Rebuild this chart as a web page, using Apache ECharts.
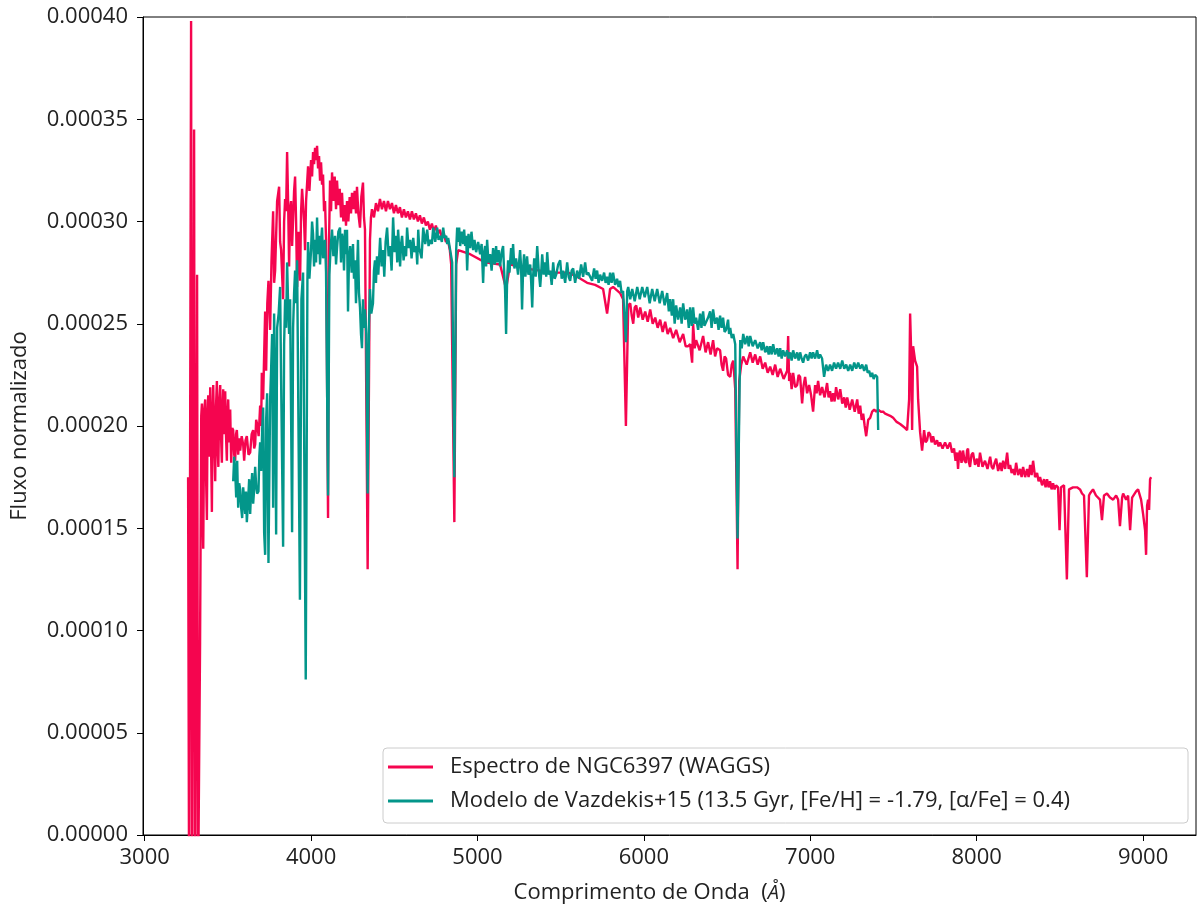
<!DOCTYPE html>
<html>
<head>
<meta charset="utf-8">
<script src="https://cdn.jsdelivr.net/npm/echarts@6/dist/echarts.min.js"></script>
<style>
  html, body { margin: 0; padding: 0; background: #ffffff; }
  #chart { width: 1198px; height: 909px; }
</style>
</head>
<body>
<div id="chart"></div>
<script>
// Normalized flux values below are given in units of 1e-5.
const FLUX_UNIT = 1e-5;

// NGC6397 spectrum (WAGGS): [wavelength (Å), flux]
const redSpectrum = [
  [3261, 17.5], [3267, -3], [3279, 39.8], [3285, -3], [3297, 34.5], [3303, -3], [3315, 27.4], [3321, -3],
  [3333, 9.4], [3340, 20.5], [3344, 21.1], [3348, 16.0], [3352, 14.0], [3358, 20.8], [3364, 21.3], [3369, 17.5],
  [3374, 15.4], [3378, 20.6], [3382, 21.5], [3388, 18.5], [3394, 21.9], [3399, 19.0], [3404, 15.8], [3408, 20.5],
  [3412, 22.0], [3418, 19.5], [3424, 17.3], [3429, 21.0], [3434, 22.2], [3438, 19.0], [3443, 18.0], [3448, 21.2],
  [3454, 22.0], [3459, 19.5], [3464, 18.2], [3468, 20.8], [3472, 21.8], [3478, 19.6], [3484, 21.7], [3489, 19.5],
  [3494, 18.3], [3498, 20.5], [3502, 21.3], [3508, 19.2], [3514, 20.8], [3520, 18.2], [3526, 19.9], [3532, 19.8],
  [3538, 18.6], [3544, 18.3], [3549, 19.6], [3554, 19.8], [3562, 18.6], [3568, 19.4], [3574, 18.8], [3583, 19.5],
  [3592, 19.1], [3598, 18.3], [3606, 19.3], [3614, 19.5], [3624, 18.6], [3634, 18.7], [3643, 19.6], [3652, 19.8],
  [3658, 18.9], [3664, 19.1], [3670, 20.3], [3676, 20.1], [3685, 19.5], [3694, 21.0], [3700, 20.0], [3704, 22.6],
  [3712, 21.3], [3718, 23.5], [3724, 25.6], [3730, 22.7], [3737, 26.0], [3744, 27.1], [3754, 24.7], [3762, 28.0],
  [3772, 30.5], [3778, 27.0], [3784, 27.6], [3796, 31.0], [3808, 31.7], [3814, 29.0], [3820, 28.6], [3832, 26.2],
  [3838, 30.0], [3844, 31.1], [3850, 30.5], [3856, 33.4], [3862, 31.0], [3868, 27.8], [3874, 30.6], [3880, 31.0],
  [3886, 28.8], [3892, 30.1], [3898, 31.5], [3904, 32.2], [3910, 30.0], [3916, 26.8], [3925, 29.5], [3934, 27.1],
  [3940, 30.5], [3946, 31.6], [3958, 30.0], [3964, 28.6], [3970, 31.0], [3982, 32.7], [3990, 31.5], [4000, 33.0],
  [4006, 32.2], [4012, 33.4], [4018, 32.8], [4024, 33.6], [4030, 33.0], [4036, 33.7], [4042, 32.6], [4048, 33.2],
  [4054, 32.0], [4060, 32.9], [4066, 31.8], [4072, 32.3], [4078, 30.5], [4084, 31.0], [4090, 29.1], [4102, 15.5],
  [4108, 29.1], [4114, 32.0], [4120, 30.5], [4126, 32.4], [4134, 31.0], [4142, 32.2], [4150, 30.6], [4156, 32.0],
  [4164, 30.8], [4172, 31.6], [4180, 30.2], [4186, 31.4], [4194, 30.0], [4204, 30.8], [4210, 29.8], [4216, 31.0],
  [4224, 30.0], [4232, 31.2], [4240, 30.4], [4246, 31.4], [4254, 30.6], [4262, 31.5], [4270, 30.4], [4276, 31.7],
  [4284, 30.4], [4294, 29.7], [4302, 31.2], [4312, 31.9], [4318, 30.2], [4324, 29.6], [4340, 13.0], [4354, 29.1],
  [4360, 30.2], [4366, 30.6], [4378, 30.2], [4390, 30.9], [4402, 30.5], [4414, 31.1], [4426, 30.6], [4438, 31.0],
  [4450, 30.5], [4462, 31.0], [4474, 30.6], [4486, 30.9], [4498, 30.4], [4510, 30.8], [4522, 30.4], [4534, 30.7],
  [4546, 30.2], [4558, 30.6], [4570, 30.2], [4582, 30.5], [4594, 30.1], [4606, 30.5], [4618, 30.1], [4630, 30.4],
  [4642, 30.0], [4654, 30.3], [4666, 29.9], [4678, 30.2], [4690, 29.8], [4702, 30.0], [4714, 29.6], [4726, 29.9],
  [4738, 29.5], [4750, 29.8], [4762, 29.4], [4774, 29.6], [4786, 29.2], [4798, 29.4], [4810, 29.0], [4822, 29.1],
  [4834, 28.6], [4842, 27.9], [4861, 15.3], [4872, 27.9], [4884, 28.6], [4956, 28.4], [5046, 28.0], [5136, 27.9],
  [5172, 26.7], [5196, 27.9], [5286, 27.7], [5377, 27.6], [5467, 27.5], [5545, 27.5], [5599, 27.3], [5659, 27.0],
  [5707, 26.9], [5755, 26.7], [5779, 25.5], [5797, 26.7], [5815, 26.8], [5857, 26.5], [5875, 26.2], [5892, 20.0],
  [5906, 25.9], [5918, 26.0], [5927, 25.4], [5936, 25.0], [5945, 25.8], [5954, 25.9], [5966, 25.3], [5978, 25.8],
  [5993, 25.2], [6008, 25.6], [6023, 25.1], [6038, 25.7], [6053, 25.0], [6068, 25.3], [6083, 24.8], [6098, 25.2],
  [6113, 24.6], [6128, 25.1], [6143, 24.5], [6158, 24.8], [6176, 24.3], [6194, 24.7], [6215, 24.1], [6236, 24.5],
  [6251, 23.9], [6266, 23.9], [6278, 24.0], [6290, 23.1], [6296, 25.0], [6305, 23.8], [6314, 24.2], [6335, 23.7],
  [6356, 24.4], [6371, 23.6], [6386, 24.1], [6401, 23.5], [6416, 24.2], [6428, 23.4], [6440, 23.8], [6458, 23.7],
  [6467, 23.0], [6476, 22.7], [6485, 23.4], [6494, 23.3], [6506, 22.5], [6519, 22.4], [6528, 23.0], [6537, 23.2],
  [6549, 21.8], [6563, 13.0], [6573, 22.2], [6585, 23.0], [6597, 23.4], [6618, 23.0], [6639, 23.6], [6654, 23.1],
  [6669, 23.5], [6684, 23.0], [6699, 23.4], [6714, 22.8], [6729, 23.1], [6744, 22.6], [6759, 22.9], [6774, 22.5],
  [6789, 23.0], [6804, 22.4], [6819, 22.8], [6840, 22.3], [6861, 22.7], [6867, 24.4], [6873, 22.2], [6879, 22.6],
  [6888, 21.8], [6897, 22.6], [6909, 21.9], [6921, 22.0], [6930, 22.5], [6939, 22.4], [6951, 21.1], [6960, 22.0],
  [6969, 22.4], [6981, 21.6], [6993, 22.0], [7005, 21.5], [7017, 20.7], [7029, 22.0], [7038, 21.6], [7047, 22.2],
  [7059, 21.5], [7071, 21.9], [7086, 21.4], [7101, 22.1], [7110, 21.4], [7119, 21.7], [7128, 21.2], [7137, 21.6],
  [7146, 21.2], [7155, 21.9], [7168, 21.3], [7180, 21.8], [7192, 21.1], [7204, 21.4], [7213, 20.9], [7222, 21.4],
  [7237, 20.8], [7252, 21.3], [7267, 20.7], [7282, 21.3], [7291, 20.6], [7300, 21.0], [7309, 20.3], [7318, 20.6],
  [7327, 20.0], [7336, 19.5], [7348, 20.3], [7360, 20.4], [7372, 20.7], [7384, 20.8], [7396, 20.7], [7408, 20.8],
  [7423, 20.7], [7438, 20.7], [7450, 20.6], [7462, 20.6], [7480, 20.5], [7498, 20.4], [7519, 20.2], [7540, 20.1],
  [7570, 19.9], [7582, 19.8], [7594, 21.3], [7600, 25.5], [7606, 23.7], [7612, 19.8], [7618, 23.9], [7630, 23.2],
  [7642, 22.9], [7648, 21.3], [7660, 19.7], [7672, 18.8], [7684, 19.8], [7693, 19.2], [7702, 19.3], [7711, 19.7],
  [7720, 19.6], [7729, 19.2], [7738, 19.5], [7750, 19.1], [7762, 19.3], [7771, 19.0], [7780, 19.2], [7795, 18.9],
  [7810, 19.2], [7825, 18.9], [7840, 19.2], [7852, 18.7], [7864, 18.9], [7873, 18.3], [7882, 18.7], [7888, 17.9],
  [7894, 18.6], [7900, 18.8], [7909, 18.2], [7918, 18.8], [7927, 18.3], [7936, 18.2], [7942, 18.8], [7948, 18.9],
  [7954, 18.2], [7960, 18.0], [7969, 18.6], [7978, 18.7], [7990, 18.1], [8002, 18.4], [8011, 18.0], [8020, 18.7],
  [8035, 18.0], [8050, 18.3], [8065, 17.9], [8081, 18.5], [8090, 18.0], [8099, 17.9], [8108, 18.2], [8117, 18.4],
  [8129, 17.8], [8141, 18.2], [8150, 17.8], [8159, 18.3], [8171, 17.9], [8183, 18.7], [8192, 17.9], [8201, 18.1],
  [8210, 17.7], [8219, 17.9], [8228, 17.6], [8237, 18.2], [8249, 17.6], [8261, 17.9], [8270, 17.5], [8279, 18.0],
  [8291, 17.5], [8303, 17.9], [8312, 17.5], [8321, 18.1], [8330, 17.6], [8339, 18.3], [8351, 17.5], [8363, 17.7],
  [8372, 17.3], [8381, 17.5], [8393, 17.1], [8405, 17.4], [8414, 17.0], [8423, 17.4], [8432, 17.0], [8441, 17.3],
  [8450, 16.9], [8459, 17.2], [8468, 16.9], [8477, 17.1], [8489, 17.0], [8498, 14.9], [8507, 17.0], [8525, 17.1],
  [8542, 12.5], [8555, 16.9], [8579, 17.0], [8603, 17.0], [8621, 16.9], [8633, 16.7], [8645, 16.6], [8662, 12.6],
  [8675, 16.6], [8681, 16.7], [8699, 16.9], [8717, 16.6], [8741, 16.4], [8753, 15.4], [8765, 16.6], [8783, 16.7],
  [8801, 16.5], [8820, 16.4], [8838, 16.6], [8850, 16.4], [8861, 15.1], [8874, 16.5], [8880, 16.7], [8898, 16.4],
  [8910, 16.6], [8922, 14.9], [8934, 16.5], [8940, 16.5], [8958, 16.8], [8970, 16.9], [8988, 16.4], [9000, 15.7],
  [9012, 14.9], [9018, 13.7], [9024, 16.1], [9030, 16.4], [9036, 15.9], [9042, 17.4], [9048, 17.5]
];

// Vazdekis+15 model: wavelength (Å) and flux
const tealWave = [
  3532, 3538, 3544, 3550, 3556, 3562, 3568, 3574, 3580, 3586, 3592, 3598, 3604, 3609, 3614, 3622,
  3628, 3634, 3640, 3646, 3652, 3658, 3664, 3670, 3676, 3684, 3689, 3694, 3700, 3706, 3712, 3718,
  3724, 3730, 3736, 3744, 3754, 3760, 3766, 3772, 3778, 3784, 3790, 3796, 3805, 3814, 3820, 3832,
  3838, 3844, 3850, 3856, 3862, 3868, 3874, 3886, 3892, 3898, 3904, 3910, 3916, 3933, 3942, 3952,
  3968, 3978, 3982, 3990, 4000, 4006, 4012, 4018, 4024, 4030, 4036, 4042, 4048, 4054, 4060, 4066,
  4072, 4078, 4084, 4090, 4102, 4110, 4118, 4126, 4134, 4144, 4150, 4156, 4164, 4174, 4180, 4186,
  4192, 4198, 4204, 4210, 4216, 4222, 4228, 4235, 4244, 4252, 4258, 4264, 4270, 4276, 4282, 4288,
  4294, 4300, 4306, 4312, 4318, 4324, 4332, 4340, 4348, 4354, 4362, 4372, 4378, 4384, 4390, 4396,
  4404, 4415, 4424, 4433, 4440, 4448, 4457, 4466, 4475, 4484, 4493, 4502, 4511, 4518, 4523, 4530,
  4535, 4541, 4547, 4556, 4565, 4571, 4577, 4586, 4596, 4604, 4614, 4622, 4632, 4638, 4644, 4650,
  4656, 4664, 4674, 4686, 4698, 4706, 4716, 4726, 4734, 4746, 4758, 4766, 4776, 4786, 4794, 4802,
  4812, 4818, 4824, 4836, 4848, 4861, 4872, 4878, 4884, 4890, 4896, 4905, 4914, 4920, 4926, 4932,
  4938, 4946, 4956, 4964, 4974, 4982, 4992, 5004, 5016, 5025, 5034, 5040, 5046, 5052, 5058, 5066,
  5076, 5085, 5094, 5104, 5112, 5118, 5127, 5136, 5145, 5154, 5160, 5166, 5172, 5178, 5184, 5192,
  5202, 5208, 5214, 5222, 5232, 5244, 5256, 5262, 5268, 5274, 5280, 5288, 5298, 5306, 5317, 5323,
  5329, 5335, 5341, 5350, 5359, 5368, 5377, 5383, 5389, 5398, 5407, 5413, 5419, 5428, 5437, 5446,
  5455, 5464, 5473, 5485, 5497, 5506, 5515, 5527, 5539, 5548, 5557, 5566, 5575, 5587, 5599, 5611,
  5623, 5635, 5647, 5656, 5665, 5677, 5689, 5701, 5710, 5719, 5728, 5737, 5749, 5761, 5770, 5779,
  5788, 5797, 5806, 5815, 5827, 5839, 5848, 5857, 5866, 5875, 5892, 5900, 5906, 5918, 5930, 5945,
  5960, 5975, 5990, 6005, 6020, 6035, 6050, 6065, 6080, 6095, 6110, 6125, 6140, 6150, 6158, 6168,
  6176, 6185, 6194, 6206, 6218, 6227, 6236, 6248, 6260, 6270, 6278, 6288, 6296, 6305, 6314, 6326,
  6338, 6346, 6356, 6364, 6374, 6386, 6398, 6407, 6416, 6428, 6440, 6449, 6458, 6467, 6476, 6485,
  6494, 6506, 6512, 6519, 6528, 6537, 6549, 6563, 6579, 6588, 6597, 6609, 6621, 6630, 6639, 6654,
  6669, 6684, 6699, 6708, 6717, 6729, 6741, 6750, 6759, 6768, 6777, 6789, 6801, 6810, 6819, 6828,
  6837, 6849, 6861, 6870, 6879, 6888, 6897, 6909, 6921, 6930, 6939, 6948, 6957, 6966, 6975, 6987,
  6999, 7008, 7017, 7029, 7041, 7050, 7059, 7071, 7083, 7095, 7107, 7119, 7131, 7143, 7155, 7167,
  7180, 7192, 7204, 7216, 7228, 7240, 7252, 7264, 7276, 7288, 7300, 7312, 7324, 7336, 7345, 7354,
  7363, 7372, 7381, 7390, 7402, 7408
];
const tealFlux = [
  17.3, 18.5, 17.8, 16.5, 18.3, 16.0, 17.2, 16.9, 16.0, 15.5, 17.0, 16.4, 15.7, 16.8, 15.3, 16.4,
  17.4, 15.7, 16.9, 17.7, 16.2, 16.9, 18.0, 17.1, 16.7, 16.8, 18.5, 19.2, 17.8, 19.8, 20.9, 14.8,
  13.7, 20.3, 21.6, 13.3, 21.3, 22.8, 24.5, 16.0, 25.5, 22.0, 14.7, 24.8, 25.5, 26.8, 22.2, 14.1,
  24.0, 26.2, 24.8, 28.0, 26.0, 24.5, 26.2, 14.8, 24.8, 26.5, 27.6, 26.0, 28.1, 11.5, 26.2, 27.5,
  7.6, 27.1, 29.0, 27.2, 28.6, 30.0, 29.4, 27.8, 29.1, 28.0, 30.2, 28.4, 29.3, 27.9, 29.0, 29.7,
  28.2, 28.6, 29.1, 27.5, 16.6, 27.4, 28.8, 29.6, 28.3, 29.3, 27.9, 28.7, 29.5, 29.7, 28.0, 29.4,
  29.1, 27.6, 29.6, 28.4, 29.6, 25.6, 28.2, 28.8, 27.5, 28.9, 27.2, 28.1, 26.0, 27.5, 29.1, 26.5,
  25.8, 24.5, 23.8, 26.2, 24.8, 25.7, 24.5, 16.7, 25.0, 26.7, 25.5, 26.0, 27.6, 28.1, 27.0, 28.3,
  27.4, 29.2, 27.8, 28.6, 27.3, 29.0, 29.7, 28.3, 28.8, 27.6, 30.2, 28.5, 29.3, 28.0, 29.6, 28.6,
  27.8, 28.9, 29.3, 28.1, 28.8, 28.3, 29.7, 28.7, 29.1, 28.2, 29.2, 28.5, 28.8, 27.9, 29.6, 28.7,
  28.5, 28.2, 29.7, 28.9, 29.6, 28.8, 29.1, 28.9, 29.7, 29.0, 29.7, 29.1, 29.3, 29.0, 29.7, 29.2,
  29.3, 28.9, 29.2, 28.6, 28.0, 17.5, 28.6, 29.7, 29.0, 29.7, 28.8, 29.5, 28.9, 29.6, 28.8, 29.3,
  27.6, 29.4, 28.7, 29.5, 28.6, 29.1, 28.5, 29.0, 28.4, 28.9, 27.0, 28.5, 28.8, 27.8, 29.1, 28.0,
  28.4, 27.6, 28.7, 27.9, 28.8, 28.0, 28.6, 27.8, 28.5, 28.8, 27.6, 26.6, 24.5, 27.1, 28.1, 27.5,
  28.7, 27.9, 28.9, 27.7, 28.2, 27.4, 28.6, 27.8, 25.7, 27.6, 28.4, 27.3, 28.3, 27.4, 27.9, 27.0,
  25.8, 27.4, 28.2, 27.3, 28.8, 27.6, 26.8, 27.5, 28.4, 27.4, 28.0, 27.3, 28.5, 27.4, 27.6, 26.9,
  28.0, 27.2, 27.4, 27.9, 28.1, 27.2, 27.6, 27.0, 28.0, 27.3, 27.1, 27.6, 27.7, 27.0, 27.6, 27.2,
  27.9, 27.3, 28.0, 27.4, 27.5, 27.5, 27.1, 27.7, 27.2, 27.6, 27.0, 27.4, 27.1, 27.5, 27.0, 27.3,
  26.9, 27.5, 27.0, 27.5, 26.9, 27.2, 26.8, 27.1, 26.5, 26.6, 24.1, 26.6, 26.8, 26.2, 26.7, 26.1,
  26.8, 26.2, 26.8, 26.3, 26.8, 26.0, 26.7, 26.1, 26.7, 26.0, 26.6, 25.9, 26.5, 25.6, 26.2, 25.4,
  26.2, 25.0, 25.9, 25.2, 25.8, 25.0, 26.0, 25.2, 25.7, 24.8, 25.8, 24.9, 25.8, 25.0, 25.3, 24.7,
  25.5, 24.8, 25.6, 24.9, 24.9, 25.3, 25.6, 24.8, 25.7, 25.0, 25.3, 24.7, 25.4, 24.8, 25.3, 24.6,
  24.7, 25.2, 24.5, 24.8, 24.3, 24.5, 24.0, 14.5, 24.2, 23.8, 24.5, 24.0, 24.4, 23.9, 24.4, 23.9,
  24.2, 23.8, 24.1, 23.7, 24.1, 23.6, 23.9, 23.5, 23.9, 23.5, 24.0, 23.5, 23.8, 23.4, 23.8, 23.3,
  23.7, 23.4, 23.7, 23.3, 23.6, 23.2, 23.7, 23.3, 23.6, 23.2, 23.6, 23.3, 23.1, 23.4, 23.5, 23.2,
  23.6, 23.3, 23.6, 23.3, 23.7, 23.3, 23.5, 23.3, 22.4, 23.0, 22.7, 23.0, 22.7, 23.1, 22.8, 23.1,
  22.8, 23.2, 22.8, 23.0, 22.7, 23.0, 22.7, 23.1, 22.8, 23.1, 22.8, 23.0, 22.7, 23.0, 22.6, 22.7,
  22.4, 22.6, 22.3, 22.5, 22.4, 19.8
];

const xTicks = [3000, 4000, 5000, 6000, 7000, 8000, 9000];
const yTicks = [0, 0.00005, 0.0001, 0.00015, 0.0002, 0.00025, 0.0003, 0.00035, 0.0004];

const seriesNames = [
  'Espectro de NGC6397 (WAGGS)',
  'Modelo de Vazdekis+15 (13.5 Gyr, [Fe/H] = -1.79, [α/Fe] = 0.4)'
];
const seriesColors = ['#F5054F', '#03968A'];

const FONT = 'Open Sans';
const TEXT_COLOR = '#222222';
const LINE_WIDTH = 2.4;

const redData = redSpectrum.map(([w, f]) => [w, f * FLUX_UNIT]);
const tealData = tealWave.map((w, i) => [w, tealFlux[i] * FLUX_UNIT]);

const chart = echarts.init(document.getElementById('chart'), null, { renderer: 'canvas' });

chart.setOption({
  animation: false,
  backgroundColor: '#ffffff',
  grid: {
    left: 143, right: 2, top: 17, bottom: 74,
    show: true, borderColor: '#000000', borderWidth: 1, backgroundColor: 'transparent'
  },
  xAxis: {
    type: 'value',
    min: 2990, max: 9318,
    name: 'Comprimento de Onda  ({i|Å})',
    nameLocation: 'middle',
    nameGap: 47,
    nameTextStyle: {
      fontFamily: FONT, fontSize: 22, color: TEXT_COLOR, padding: [0, 40, 0, 0],
      rich: { i: { fontFamily: FONT, fontSize: 20, fontStyle: 'italic', color: TEXT_COLOR } }
    },
    axisLine: { show: true, onZero: false, lineStyle: { color: '#000000', width: 1 } },
    axisTick: { show: true, length: 6, customValues: xTicks, lineStyle: { color: '#000000' } },
    axisLabel: {
      customValues: xTicks, margin: 12,
      fontFamily: FONT, fontSize: 22, color: TEXT_COLOR,
      formatter: v => String(v)
    },
    splitLine: { show: false }
  },
  yAxis: {
    type: 'value',
    min: 0, max: 0.0004, interval: 0.00005,
    name: 'Fluxo normalizado',
    nameLocation: 'middle',
    nameGap: 112,
    nameRotate: 90,
    nameTextStyle: { fontFamily: FONT, fontSize: 22, color: TEXT_COLOR },
    axisLine: { show: true, lineStyle: { color: '#000000', width: 1 } },
    axisTick: { show: true, length: 6, customValues: yTicks, lineStyle: { color: '#000000' } },
    axisLabel: {
      customValues: yTicks, margin: 15,
      fontFamily: FONT, fontSize: 22, color: TEXT_COLOR,
      formatter: v => Number(v).toFixed(5)
    },
    splitLine: { show: false }
  },
  graphic: [{
    type: 'rect',
    z: 3,
    shape: { x: 383, y: 748, width: 805, height: 75, r: 4 },
    style: { fill: 'rgba(255,255,255,0.85)', stroke: '#cccccc', lineWidth: 1 }
  }],
  legend: {
    z: 4,
    orient: 'vertical',
    left: 388, top: 756,
    padding: 0,
    icon: 'rect',
    itemWidth: 45, itemHeight: 3, itemGap: 12,
    textStyle: {
      fontFamily: FONT, fontSize: 22, lineHeight: 22, color: TEXT_COLOR,
      padding: [0, 0, 0, 12]
    },
    data: seriesNames
  },
  series: [
    {
      name: seriesNames[0], type: 'line', symbol: 'none', clip: true,
      color: seriesColors[0],
      lineStyle: { width: LINE_WIDTH, color: seriesColors[0] },
      data: redData, z: 2
    },
    {
      name: seriesNames[1], type: 'line', symbol: 'none', clip: true,
      color: seriesColors[1],
      lineStyle: { width: LINE_WIDTH, color: seriesColors[1] },
      data: tealData, z: 2
    }
  ]
});
</script>
</body>
</html>
